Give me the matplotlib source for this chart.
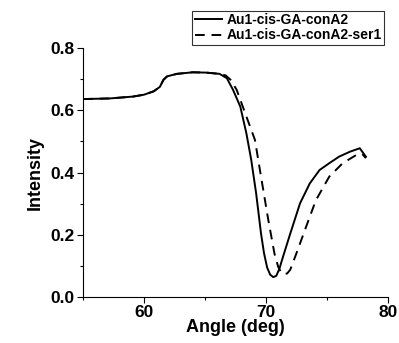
import matplotlib
matplotlib.use("Agg")
import matplotlib.pyplot as plt
from matplotlib.ticker import MultipleLocator

plt.rcParams['font.family'] = ['Liberation Sans', 'DejaVu Sans']
plt.rcParams['font.weight'] = 'bold'

# solid curve: Au1-cis-GA-conA2
angle_a = [55.0, 57.2, 59.1, 60.0, 60.8, 61.3, 61.6, 61.9, 62.7, 64.0, 65.1, 66.2,
           66.8, 67.3, 67.9, 68.4, 68.8, 69.2, 69.6, 69.85, 70.1, 70.35, 70.6, 70.85,
           71.1, 71.4, 72.0, 72.8, 73.6, 74.4, 75.2, 76.0, 76.9, 77.7, 77.9, 78.2]
int_a = [0.636, 0.638, 0.644, 0.650, 0.661, 0.675, 0.698, 0.709, 0.717, 0.722, 0.721, 0.717,
         0.703, 0.666, 0.612, 0.526, 0.440, 0.333, 0.204, 0.140, 0.095, 0.072, 0.064, 0.068,
         0.090, 0.129, 0.204, 0.301, 0.365, 0.408, 0.430, 0.451, 0.467, 0.478, 0.467, 0.451]

# dashed curve: Au1-cis-GA-conA2-ser1
angle_b = [55.0, 57.2, 59.1, 60.0, 60.8, 61.3, 61.6, 61.9, 62.7, 64.0, 65.1, 66.2,
           66.7, 67.1, 67.6, 68.4, 69.1, 69.6, 70.2, 70.7, 71.0, 71.25, 71.5, 71.75,
           72.0, 72.5, 73.3, 74.1, 75.2, 76.3, 77.4, 77.9, 78.2]
int_b = [0.636, 0.638, 0.644, 0.650, 0.661, 0.675, 0.698, 0.709, 0.717, 0.722, 0.721, 0.717,
         0.712, 0.698, 0.666, 0.580, 0.505, 0.387, 0.247, 0.140, 0.098, 0.078, 0.073, 0.076,
         0.088, 0.140, 0.226, 0.311, 0.387, 0.430, 0.456, 0.460, 0.446]

labels = ["Au1-cis-GA-conA2", "Au1-cis-GA-conA2-ser1"]

fig = plt.figure(figsize=(3.99, 3.43), dpi=100)
ax = fig.add_axes([0.208, 0.134, 0.764, 0.726])

ax.plot(angle_b, int_b, color='black', lw=1.4, ls=(0, (5, 3.5)), label=labels[1])
ax.plot(angle_a, int_a, color='black', lw=1.4, label=labels[0])

ax.set_xlim(55, 80)
ax.set_ylim(0, 0.8)
ax.xaxis.set_major_locator(MultipleLocator(10))
ax.xaxis.set_minor_locator(MultipleLocator(5))
ax.yaxis.set_major_locator(MultipleLocator(0.2))
ax.yaxis.set_minor_locator(MultipleLocator(0.1))
ax.yaxis.set_major_formatter(plt.FormatStrFormatter('%.1f'))
ax.tick_params(which='both', direction='out', labelsize=12.5, width=0.8, pad=2)
ax.tick_params(which='major', length=4)
ax.tick_params(which='minor', length=2.5)
ax.spines['top'].set_visible(False)
ax.spines['right'].set_visible(False)

ax.set_xlabel("Angle (deg)", fontsize=13, fontweight='bold', labelpad=-1)
ax.set_ylabel("Intensity", fontsize=13, fontweight='bold', labelpad=5)

h, l = ax.get_legend_handles_labels()
leg = fig.legend(h[::-1], l[::-1], loc='upper right', bbox_to_anchor=(0.962, 0.968),
                 fontsize=10, frameon=True, fancybox=False, handlelength=2.0,
                 handletextpad=0.3, borderpad=0.15, labelspacing=0.1, borderaxespad=0)
leg.get_frame().set_edgecolor('black')
leg.get_frame().set_linewidth(0.8)

fig.savefig("out.png", dpi=100)
